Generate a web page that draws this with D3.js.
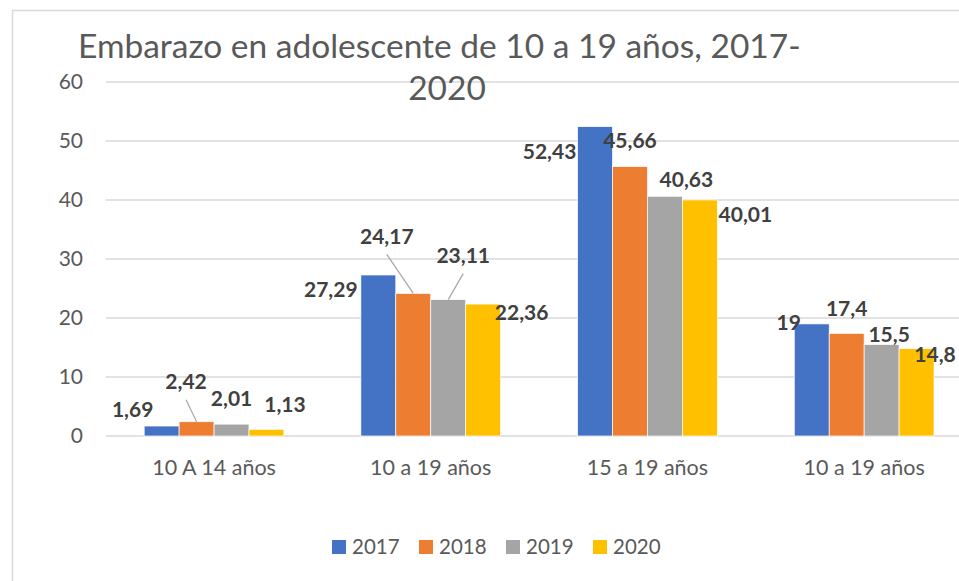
<!DOCTYPE html>
<html><head><meta charset="utf-8">
<script src="https://cdn.jsdelivr.net/npm/d3@7"></script>
<style>
html,body{margin:0;padding:0;background:#fff;}
svg{display:block;font-family:Lato,"Open Sans",sans-serif;}
</style></head>
<body>
<svg id="chart" width="959" height="581"></svg>
<script>
// ---- data ----
const categories = ["10 A 14 años", "10 a 19 años", "15 a 19 años", "10 a 19 años"];
const seriesNames = ["2017", "2018", "2019", "2020"];
const values2017 = [1.69, 27.29, 52.43, 19];
const values2018 = [2.42, 24.17, 45.66, 17.4];
const values2019 = [2.01, 23.11, 40.63, 15.5];
const values2020 = [1.13, 22.36, 40.01, 14.8];
const labels2017 = ["1,69", "27,29", "52,43", "19"];
const labels2018 = ["2,42", "24,17", "45,66", "17,4"];
const labels2019 = ["2,01", "23,11", "40,63", "15,5"];
const labels2020 = ["1,13", "22,36", "40,01", "14,8"];
const yTicks = [0, 10, 20, 30, 40, 50, 60];
const titleLines = ["Embarazo en adolescente de 10 a 19 años, 2017-", "2020"];

// ---- styling / layout ----
const colors = ["#4472C4", "#ED7D31", "#A5A5A5", "#FFC000"];
// label placement offsets (dx, dy) from bar-top centre, per series per category
const labelOffsets = [
  [[-29,-16],[-47.5,15],[-45.5,25],[-23,-1]],
  [[-10.5,-40],[-26.5,-57],[0,-26],[0,-25]],
  [[0,-25],[15,-44],[21.5,-17],[7.5,-9.5]],
  [[18.5,-25],[38.5,9],[45.5,15],[18.5,6]]
];
const leaderLines = [[1,0],[1,1],[2,1]]; // [series, category]

const svg = d3.select("#chart");
const seriesValues = [values2017, values2018, values2019, values2020];
const seriesLabels = [labels2017, labels2018, labels2019, labels2020];

// frame
svg.append("rect").attr("x",12.5).attr("y",10.5).attr("width",1000).attr("height",700)
  .attr("fill","#fff").attr("stroke","#d9d9d9").attr("stroke-width",1.5);

const x0 = d3.scaleBand().domain(d3.range(categories.length)).range([105.7, 972.5])
  .paddingInner(0.355).paddingOuter(0.1775);
const x1 = d3.scaleBand().domain(d3.range(seriesNames.length)).range([0, x0.bandwidth()]);
const y = d3.scaleLinear().domain([0, 60]).range([436, 82]);

// gridlines
svg.append("g").selectAll("line").data(yTicks).join("line")
  .attr("x1", 105.7).attr("x2", 972.5)
  .attr("y1", d => y(d)).attr("y2", d => y(d))
  .attr("stroke", "#d9d9d9").attr("stroke-width", 1.5);

// y tick labels
svg.append("g").selectAll("text").data(yTicks).join("text")
  .attr("x", 83).attr("y", d => y(d)).attr("dy", "0.35em")
  .attr("text-anchor", "end").attr("fill", "#595959").attr("font-size", 21)
  .text(d => d);

// bars
const bars = [];
seriesValues.forEach((vals, s) => vals.forEach((v, c) => bars.push({s, c, v, lab: seriesLabels[s][c]})));
svg.append("g").selectAll("rect").data(bars).join("rect")
  .attr("x", d => x0(d.c) + x1(d.s))
  .attr("width", x1.bandwidth())
  .attr("y", d => y(d.v))
  .attr("height", d => y(0) - y(d.v))
  .attr("fill", d => colors[d.s])
  .attr("stroke", "#fff").attr("stroke-width", 0.7);

// x category labels
svg.append("g").selectAll("text").data(categories).join("text")
  .attr("x", (d, i) => x0(i) + x0.bandwidth() / 2).attr("y", 467).attr("dy", "0.35em")
  .attr("text-anchor", "middle").attr("fill", "#595959").attr("font-size", 21.5)
  .text(d => d);

// leader lines
svg.append("g").selectAll("line").data(leaderLines).join("line")
  .attr("x1", d => x0(d[1]) + x1(d[0]) + x1.bandwidth()/2)
  .attr("y1", d => y(seriesValues[d[0]][d[1]]))
  .attr("x2", d => x0(d[1]) + x1(d[0]) + x1.bandwidth()/2 + labelOffsets[d[0]][d[1]][0])
  .attr("y2", d => y(seriesValues[d[0]][d[1]]) + labelOffsets[d[0]][d[1]][1] + 18)
  .attr("stroke", "#a6a6a6").attr("stroke-width", 1.2);

// data labels
svg.append("g").selectAll("text").data(bars).join("text")
  .attr("x", d => x0(d.c) + x1(d.s) + x1.bandwidth()/2 + labelOffsets[d.s][d.c][0])
  .attr("y", d => y(d.v) + labelOffsets[d.s][d.c][1]).attr("dy", "0.35em")
  .attr("text-anchor", "middle").attr("fill", "#404040")
  .attr("font-size", 21).attr("font-weight", "bold")
  .text(d => d.lab);

// title
svg.append("text").attr("x", 78).attr("y", 46).attr("dy","0.35em")
  .attr("fill", "#595959").attr("font-size", 33.5).text(titleLines[0]);
svg.append("text").attr("x", 447).attr("y", 88).attr("dy","0.35em").attr("text-anchor","middle")
  .attr("fill", "#595959").attr("font-size", 33.5).text(titleLines[1]);

// legend
const legend = svg.append("g").selectAll("g").data(seriesNames).join("g")
  .attr("transform", (d, i) => `translate(${332 + i * 87},540)`);
legend.append("rect").attr("width", 14).attr("height", 14).attr("fill", (d, i) => colors[i]);
legend.append("text").attr("x", 20).attr("y", 7).attr("dy", "0.35em")
  .attr("fill", "#595959").attr("font-size", 20.5).text(d => d);
</script>
</body></html>
